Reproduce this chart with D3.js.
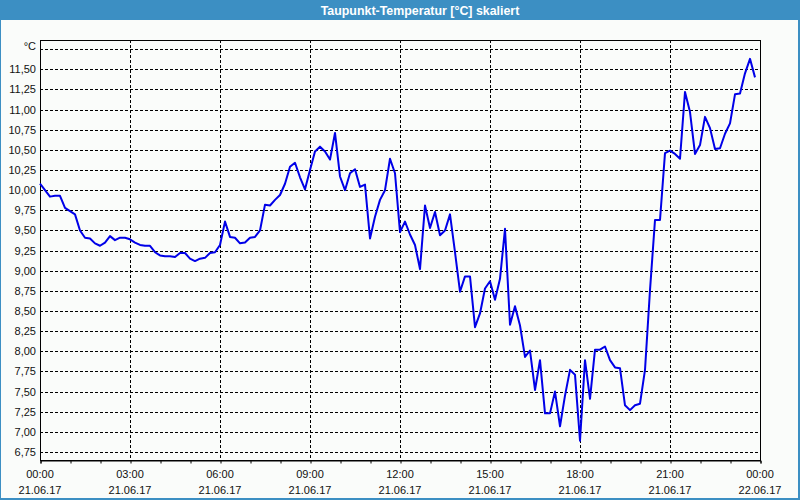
<!DOCTYPE html>
<html>
<head>
<meta charset="utf-8">
<script src="https://cdn.jsdelivr.net/npm/d3@7"></script>
<style>
  html, body { margin: 0; padding: 0; background: #ffffff; }
  svg { display: block; }
  text { font-family: "Liberation Sans", Arial, sans-serif; }
</style>
</head>
<body>
<svg id="chart" width="800" height="500"></svg>
<script>
// ---- Data ----
const chartTitle = "Taupunkt-Temperatur [°C] skaliert";
const unitLabel = "°C";
const startTime = "2017-06-21T00:00:00";
const endTime = "2017-06-22T00:00:00";
const stepMinutes = 10;
// dew point values, one every 10 minutes from 00:00 to 23:50
const dewPoint = [
  10.08, 10.00, 9.92, 9.93, 9.93, 9.78, 9.74, 9.70, 9.50, 9.41,
  9.40, 9.34, 9.31, 9.35, 9.43, 9.38, 9.41, 9.41, 9.39, 9.35,
  9.32, 9.31, 9.31, 9.23, 9.19, 9.18, 9.18, 9.17, 9.22, 9.22,
  9.15, 9.12, 9.15, 9.16, 9.22, 9.23, 9.32, 9.61, 9.42, 9.41,
  9.34, 9.35, 9.41, 9.42, 9.50, 9.82, 9.81, 9.88, 9.94, 10.08,
  10.29, 10.34, 10.16, 10.01, 10.25, 10.48, 10.54, 10.48, 10.38, 10.71,
  10.17, 10.00, 10.21, 10.26, 10.04, 10.07, 9.40, 9.67, 9.88, 10.00,
  10.39, 10.21, 9.48, 9.61, 9.45, 9.32, 9.02, 9.81, 9.53, 9.73,
  9.44, 9.50, 9.70, 9.23, 8.74, 8.93, 8.93, 8.30, 8.47, 8.78,
  8.87, 8.64, 8.90, 9.52, 8.33, 8.56, 8.32, 7.93, 8.01, 7.52,
  7.89, 7.23, 7.23, 7.50, 7.07, 7.45, 7.77, 7.71, 6.89, 7.89,
  7.41, 8.02, 8.02, 8.06, 7.89, 7.80, 7.79, 7.33, 7.27, 7.33,
  7.35, 7.77, 8.76, 9.63, 9.63, 10.46, 10.49, 10.45, 10.39, 11.22,
  10.97, 10.45, 10.56, 10.91, 10.77, 10.51, 10.52, 10.70, 10.83, 11.19,
  11.20, 11.45, 11.63, 11.40
];
const yTickValues = [6.75, 7.00, 7.25, 7.50, 7.75, 8.00, 8.25, 8.50, 8.75, 9.00,
  9.25, 9.50, 9.75, 10.00, 10.25, 10.50, 10.75, 11.00, 11.25, 11.50];
const yUnitTick = 11.75;
const xTimeLabels = ["00:00", "03:00", "06:00", "09:00", "12:00", "15:00", "18:00", "21:00", "00:00"];
const xDateLabels = ["21.06.17", "21.06.17", "21.06.17", "21.06.17", "21.06.17", "21.06.17", "21.06.17", "21.06.17", "22.06.17"];

// ---- Layout ----
const W = 800, H = 500;
const plot = { left: 40, right: 760, top: 40, bottom: 460 };
const frameBlue = "#3c8fc3";

const svg = d3.select("#chart");

const t0 = new Date(startTime), t1 = new Date(endTime);
const points = dewPoint.map((v, i) => ({ t: d3.timeMinute.offset(t0, i * stepMinutes), v }));

const x = d3.scaleTime().domain([t0, t1]).range([plot.left, plot.right]);
const y = d3.scaleLinear().domain([6.651, 11.864]).range([plot.bottom, plot.top]);

// background
svg.append("rect").attr("x", 0).attr("y", 0).attr("width", W).attr("height", H).attr("fill", "#fafcfa");

// frame
svg.append("rect").attr("x", 0).attr("y", 0).attr("width", W).attr("height", 20).attr("fill", frameBlue);
svg.append("rect").attr("x", 0).attr("y", 0).attr("width", 1).attr("height", H).attr("fill", frameBlue);
svg.append("rect").attr("x", W - 2).attr("y", 0).attr("width", 2).attr("height", H).attr("fill", frameBlue);
svg.append("rect").attr("x", 0).attr("y", H - 2).attr("width", W).attr("height", 2).attr("fill", frameBlue);

svg.append("text")
  .attr("x", 420).attr("y", 14.5)
  .attr("text-anchor", "middle")
  .attr("fill", "#ffffff")
  .attr("font-weight", "bold")
  .attr("font-size", "12.4px")
  .text(chartTitle);

// horizontal grid (dashed)
const hTicks = yTickValues.concat([yUnitTick]);
svg.append("g").selectAll("line").data(hTicks).join("line")
  .attr("x1", plot.left).attr("x2", plot.right)
  .attr("y1", d => Math.round(y(d)) + 0.5).attr("y2", d => Math.round(y(d)) + 0.5)
  .attr("stroke", "#000").attr("stroke-width", 1).attr("stroke-dasharray", "3,2");

// vertical grid (dashed) every 3 h
const majorTimes = d3.timeHour.every(3).range(t0, d3.timeMinute.offset(t1, 1));
svg.append("g").selectAll("line").data(majorTimes.slice(1, -1)).join("line")
  .attr("x1", d => Math.round(x(d)) + 0.5).attr("x2", d => Math.round(x(d)) + 0.5)
  .attr("y1", plot.top).attr("y2", plot.bottom)
  .attr("stroke", "#000").attr("stroke-width", 1).attr("stroke-dasharray", "3,2");

// plot border
svg.append("rect")
  .attr("x", plot.left + 0.5).attr("y", plot.top + 0.5)
  .attr("width", plot.right - plot.left).attr("height", plot.bottom - plot.top)
  .attr("fill", "none").attr("stroke", "#000").attr("stroke-width", 1);

// x axis with hourly ticks
const xAxis = d3.axisBottom(x)
  .ticks(d3.timeHour.every(1))
  .tickSize(3)
  .tickFormat("");
const gx = svg.append("g").attr("transform", `translate(0.5,${plot.bottom + 0.5})`).call(xAxis);
gx.select(".domain").attr("stroke", "#000");
gx.selectAll(".tick line").attr("stroke", "#000");

// x labels
const xl = svg.append("g");
xl.selectAll("text.time").data(majorTimes).join("text")
  .attr("class", "time")
  .attr("x", d => x(d)).attr("y", 478)
  .attr("text-anchor", "middle").attr("font-size", "11px").attr("fill", "#111")
  .text((d, i) => xTimeLabels[i]);
xl.selectAll("text.date").data(majorTimes).join("text")
  .attr("class", "date")
  .attr("x", d => x(d)).attr("y", 494)
  .attr("text-anchor", "middle").attr("font-size", "11px").attr("fill", "#111")
  .text((d, i) => xDateLabels[i]);

// y labels
const yFmt = v => v.toFixed(2).replace(".", ",");
svg.append("g").selectAll("text").data(yTickValues).join("text")
  .attr("x", 36).attr("y", d => y(d) + 4)
  .attr("text-anchor", "end").attr("font-size", "11px").attr("fill", "#111")
  .text(yFmt);
svg.append("text")
  .attr("x", 36).attr("y", y(yUnitTick) + 1)
  .attr("text-anchor", "end").attr("font-size", "11px").attr("fill", "#111")
  .text(unitLabel);

// line
const line = d3.line().x(d => x(d.t)).y(d => y(d.v));
svg.append("path")
  .datum(points)
  .attr("d", line)
  .attr("fill", "none")
  .attr("stroke", "#0000e8")
  .attr("stroke-width", 2)
  .attr("stroke-linejoin", "round");
</script>
</body>
</html>
